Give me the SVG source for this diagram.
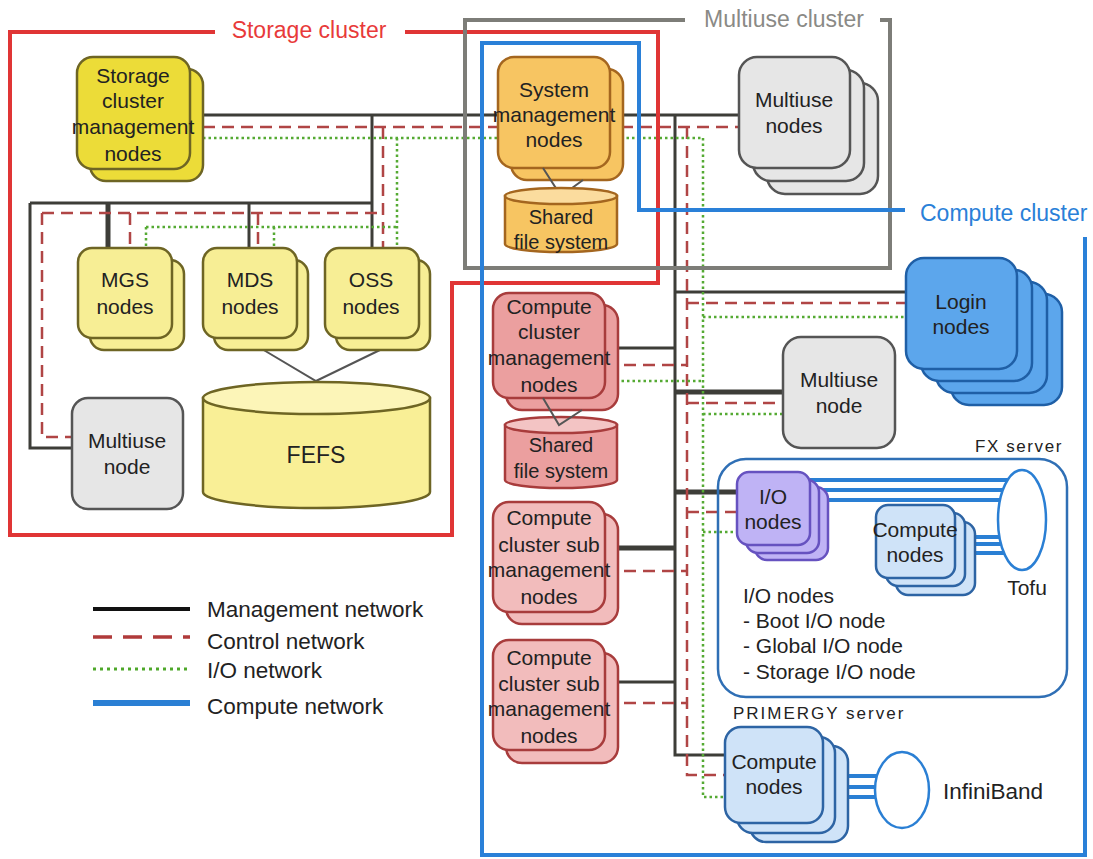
<svg xmlns="http://www.w3.org/2000/svg" width="1093" height="859" viewBox="0 0 1093 859">
<defs>
<style>
text{font-family:"Liberation Sans",Arial,sans-serif;fill:#222;}
.nl{font-size:21px;text-anchor:middle;}
.fs{font-size:20px;text-anchor:middle;}
.lg{font-size:22.5px;}
.il{font-size:21px;}
.mg{fill:none;stroke:#3d3d38;stroke-width:3;}
.mgt{fill:none;stroke:#3d3d38;stroke-width:5;}
.ct{fill:none;stroke:#b04545;stroke-width:2.5;stroke-dasharray:12 7;}
.io{fill:none;stroke:#55aa33;stroke-width:2.5;stroke-dasharray:2.5 3;}
.cp{fill:none;stroke:#2a7fd4;stroke-width:4;}
.fr{fill:none;stroke-width:4;}
.ys{fill:#ecdc38;stroke:#6e6524;stroke-width:2.5;}
.yl{fill:#f7ee95;stroke:#6e6524;stroke-width:2.5;}
.gy{fill:#e6e6e6;stroke:#555;stroke-width:2.5;}
.or{fill:#f7c562;stroke:#a4661f;stroke-width:2.5;}
.pk{fill:#eb9f9f;stroke:#a83c3c;stroke-width:2.5;}
.pl{fill:#f2bcbc;stroke:#a83c3c;stroke-width:2.5;}
.lb{fill:#5ca6ec;stroke:#1f5fa6;stroke-width:2.5;}
.pu{fill:#bfb3f5;stroke:#6652c0;stroke-width:2.5;}
.cb{fill:#cfe3f8;stroke:#2d64a4;stroke-width:2.5;}
.ell{fill:#fff;stroke:#2a7fd4;stroke-width:2.5;}
.vl{fill:none;stroke:#555;stroke-width:2;}
</style>
</defs>
<rect width="1093" height="859" fill="#fff"/>

<g id="connectors">
<!-- management -->
<path class="mg" d="M203,115 H740"/>
<path class="mg" d="M372,115 V248"/>
<path class="mg" d="M30,203 H372"/>
<path class="mg" d="M30,203 V448 H72"/>
<path class="mgt" d="M108,203 V248"/>
<path class="mg" d="M249,203 V248"/>
<path class="mg" d="M675,115 V755 H725"/>
<path class="mg" d="M675,292 H906"/>
<path class="mgt" d="M675,392 H783"/>
<path class="mg" d="M605,348 H675"/>
<path class="mgt" d="M675,492 H737"/>
<path class="mgt" d="M605,548 H675"/>
<path class="mg" d="M605,682 H675"/>
<!-- control -->
<path class="ct" d="M203,127 H740"/>
<path class="ct" d="M383,127 V248"/>
<path class="ct" d="M42,213 H383"/>
<path class="ct" d="M42,213 V437 H72"/>
<path class="ct" d="M130,213 V248"/>
<path class="ct" d="M258,213 V248"/>
<path class="ct" d="M687,127 V775 H725"/>
<path class="ct" d="M687,303 H906"/>
<path class="ct" d="M687,403 H783"/>
<path class="ct" d="M605,365 H687"/>
<path class="ct" d="M687,512 H737"/>
<path class="ct" d="M605,571 H687"/>
<path class="ct" d="M605,703 H687"/>
<!-- io -->
<path class="io" d="M203,138 H703"/>
<path class="io" d="M397,138 V248"/>
<path class="io" d="M146,227 H397"/>
<path class="io" d="M146,227 V248"/>
<path class="io" d="M274,227 V248"/>
<path class="io" d="M703,138 V797 H725"/>
<path class="io" d="M703,317 H906"/>
<path class="io" d="M703,414 H783"/>
<path class="io" d="M605,381 H703"/>
<path class="io" d="M703,532 H737"/>
<!-- compute network -->
<path class="cp" d="M810,480 H1010 M819,490 H1010 M828,500 H1010"/>
<path class="cp" d="M955,537 H1005 M965,544 H1005 M975,553 H1005"/>
<path class="cp" d="M823,776 H880 M836,787 H880 M848,797 H880"/>
<!-- storage links -->
<path class="vl" d="M262,349 L316,381 L382,349"/>
</g>

<g id="frames">
<path class="fr" stroke="#e03535" d="M215,32 H10 V535 H452 V283 H658 V32 H405"/>
<text x="309" y="38" style="font-size:23px;fill:#e83a3a;text-anchor:middle">Storage cluster</text>
<path class="fr" stroke="#7d7d78" d="M685,20 H465 V268 H890 V20 H880"/>
<text x="784" y="27" style="font-size:23px;fill:#8a8a86;text-anchor:middle">Multiuse cluster</text>
<path class="fr" stroke="#2a80d8" d="M905,210 H639 V43 H482 V855 H1085 V237"/>
<text x="920" y="221" style="font-size:23px;fill:#2a80d8">Compute cluster</text>
</g>

<g id="storage-mgmt">
<rect class="ys" x="90" y="69" width="113" height="112" rx="16"/>
<rect class="ys" x="77" y="57" width="113" height="112" rx="16"/>
<text class="nl" x="133" y="83">Storage</text>
<text class="nl" x="133" y="108">cluster</text>
<text class="nl" x="133" y="134">management</text>
<text class="nl" x="133" y="161">nodes</text>
</g>

<g id="mgs">
<rect class="yl" x="90" y="260" width="94" height="90" rx="14"/>
<rect class="yl" x="78" y="248" width="94" height="90" rx="14"/>
<text class="nl" x="125" y="287">MGS</text>
<text class="nl" x="125" y="314">nodes</text>
</g>
<g id="mds">
<rect class="yl" x="214" y="260" width="94" height="90" rx="14"/>
<rect class="yl" x="203" y="248" width="94" height="90" rx="14"/>
<text class="nl" x="250" y="287">MDS</text>
<text class="nl" x="250" y="314">nodes</text>
</g>
<g id="oss">
<rect class="yl" x="336" y="260" width="94" height="90" rx="14"/>
<rect class="yl" x="325" y="248" width="94" height="90" rx="14"/>
<text class="nl" x="371" y="287">OSS</text>
<text class="nl" x="371" y="314">nodes</text>
</g>

<g id="fefs">
<path d="M203,398 V492 A113.5,16 0 0 0 430,492 V398 Z" fill="#f9ef96" stroke="#6e6524" stroke-width="2.5"/>
<ellipse cx="316.5" cy="398" rx="113.5" ry="16" fill="#fcf5b8" stroke="#6e6524" stroke-width="2.5"/>
<text x="316" y="463" style="font-size:23px;text-anchor:middle">FEFS</text>
</g>

<g id="multiuse-storage">
<rect class="gy" x="72" y="398" width="111" height="111" rx="16"/>
<text class="nl" x="127" y="448">Multiuse</text>
<text class="nl" x="127" y="474">node</text>
</g>

<g id="system-mgmt">
<rect class="or" x="511" y="69" width="112" height="111" rx="16"/>
<rect class="or" x="498" y="57" width="112" height="111" rx="16"/>
<text class="nl" x="554" y="97">System</text>
<text class="nl" x="554" y="122">management</text>
<text class="nl" x="554" y="147">nodes</text>
</g>

<g id="shared-fs-1">
<path class="vl" d="M543,168 L561,196 L583,180"/>
<path d="M505,196 V244 A56,8 0 0 0 617,244 V196 Z" fill="#f7c562" stroke="#a4661f" stroke-width="2.5"/>
<ellipse cx="561" cy="196" rx="56" ry="8" fill="#fbdc9e" stroke="#a4661f" stroke-width="2.5"/>
<text class="fs" x="561" y="224">Shared</text>
<text class="fs" x="561" y="249">file system</text>
</g>

<g id="multiuse-nodes">
<rect class="gy" x="767" y="83" width="111" height="111" rx="18"/>
<rect class="gy" x="753" y="70" width="111" height="111" rx="18"/>
<rect class="gy" x="739" y="57" width="111" height="111" rx="18"/>
<text class="nl" x="794" y="107">Multiuse</text>
<text class="nl" x="794" y="133">nodes</text>
</g>

<g id="compute-mgmt">
<rect class="pk" x="506" y="305" width="112" height="105" rx="16"/>
<rect class="pk" x="493" y="293" width="112" height="105" rx="16"/>
<text class="nl" x="549" y="314">Compute</text>
<text class="nl" x="549" y="339">cluster</text>
<text class="nl" x="549" y="365">management</text>
<text class="nl" x="549" y="392">nodes</text>
</g>

<g id="shared-fs-2">
<path d="M505,425 V480 A56,8 0 0 0 617,480 V425 Z" fill="#eb9f9f" stroke="#a83c3c" stroke-width="2.5"/>
<ellipse cx="561" cy="425" rx="56" ry="8" fill="#f3c4c4" stroke="#a83c3c" stroke-width="2.5"/>
<path class="vl" d="M543,398 L559,425 L582,410"/>
<text class="fs" x="561" y="452">Shared</text>
<text class="fs" x="561" y="478">file system</text>
</g>

<g id="sub-mgmt-1">
<rect class="pl" x="506" y="514" width="112" height="110" rx="16"/>
<rect class="pl" x="493" y="502" width="112" height="110" rx="16"/>
<text class="nl" x="549" y="525">Compute</text>
<text class="nl" x="549" y="552">cluster sub</text>
<text class="nl" x="549" y="577">management</text>
<text class="nl" x="549" y="604">nodes</text>
</g>

<g id="sub-mgmt-2">
<rect class="pl" x="506" y="653" width="112" height="110" rx="16"/>
<rect class="pl" x="493" y="640" width="112" height="110" rx="16"/>
<text class="nl" x="549" y="665">Compute</text>
<text class="nl" x="549" y="691">cluster sub</text>
<text class="nl" x="549" y="716">management</text>
<text class="nl" x="549" y="743">nodes</text>
</g>

<g id="multiuse-node-2">
<rect class="gy" x="783" y="337" width="112" height="111" rx="18"/>
<text class="nl" x="839" y="387">Multiuse</text>
<text class="nl" x="839" y="413">node</text>
</g>

<g id="login">
<rect class="lb" x="951" y="294" width="111" height="111" rx="18"/>
<rect class="lb" x="936" y="282" width="111" height="111" rx="18"/>
<rect class="lb" x="921" y="270" width="111" height="111" rx="18"/>
<rect class="lb" x="906" y="258" width="111" height="111" rx="18"/>
<text class="nl" x="961" y="309">Login</text>
<text class="nl" x="961" y="334">nodes</text>
</g>

<g id="fx-server">
<rect x="718" y="459" width="349" height="238" rx="28" fill="none" stroke="#2f6fb5" stroke-width="2.5"/>
<text x="1063" y="452" style="font-size:17px;letter-spacing:1.6px;text-anchor:end">FX server</text>
<text class="il" x="743" y="603">I/O nodes</text>
<text class="il" x="743" y="628">- Boot I/O node</text>
<text class="il" x="743" y="653">- Global I/O node</text>
<text class="il" x="743" y="679">- Storage I/O node</text>
</g>

<g id="io-nodes">
<rect class="pu" x="755" y="487" width="73" height="73" rx="12"/>
<rect class="pu" x="746" y="480" width="73" height="73" rx="12"/>
<rect class="pu" x="737" y="472" width="73" height="73" rx="12"/>
<text class="nl" x="773" y="504">I/O</text>
<text class="nl" x="773" y="529">nodes</text>
</g>

<g id="compute-fx">
<rect class="cb" x="896" y="522" width="79" height="73" rx="12"/>
<rect class="cb" x="886" y="513" width="79" height="73" rx="12"/>
<rect class="cb" x="876" y="505" width="79" height="73" rx="12"/>
<text class="nl" x="915" y="537">Compute</text>
<text class="nl" x="915" y="562">nodes</text>
</g>

<g id="tofu">
<ellipse class="ell" cx="1022" cy="520" rx="24" ry="50"/>
<text x="1027" y="595" style="font-size:21px;text-anchor:middle">Tofu</text>
</g>

<g id="primergy">
<text x="733" y="719" style="font-size:17px;letter-spacing:2px">PRIMERGY server</text>
<rect class="cb" x="750" y="746" width="98" height="96" rx="16"/>
<rect class="cb" x="737" y="737" width="98" height="96" rx="16"/>
<rect class="cb" x="725" y="727" width="98" height="96" rx="16"/>
<text class="nl" x="774" y="769">Compute</text>
<text class="nl" x="774" y="794">nodes</text>
</g>

<g id="infiniband">
<ellipse class="ell" cx="902" cy="790" rx="27" ry="38"/>
<text x="943" y="799" style="font-size:22.5px">InfiniBand</text>
</g>

<g id="legend">
<line x1="93" y1="609" x2="190" y2="609" stroke="#111" stroke-width="4"/>
<line x1="93" y1="637" x2="190" y2="637" stroke="#b03a3a" stroke-width="3.5" stroke-dasharray="19 11"/>
<line x1="93" y1="669" x2="190" y2="669" stroke="#4ea82a" stroke-width="3" stroke-dasharray="3 4"/>
<line x1="93" y1="703" x2="190" y2="703" stroke="#2a7fd4" stroke-width="6"/>
<text class="lg" x="207" y="617">Management network</text>
<text class="lg" x="207" y="649">Control network</text>
<text class="lg" x="207" y="678">I/O network</text>
<text class="lg" x="207" y="714">Compute network</text>
</g>
</svg>
